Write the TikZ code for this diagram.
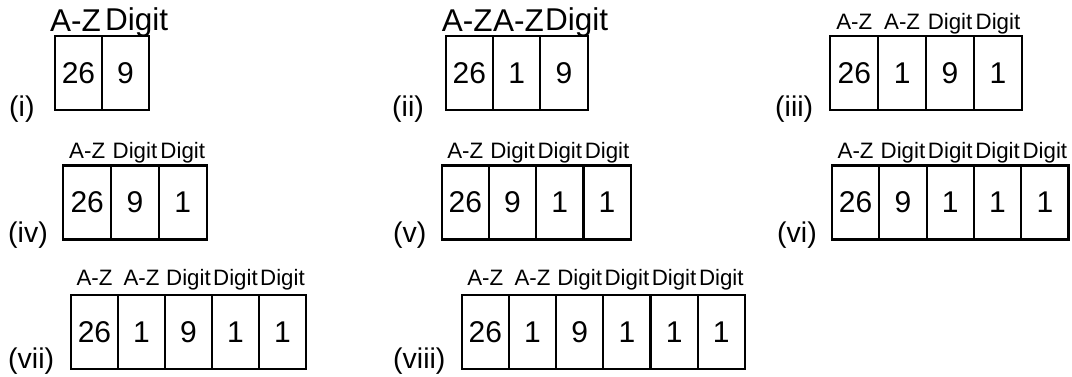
\documentclass[tikz,border=0pt]{standalone}
\usepackage{fontspec}
\setmainfont{Liberation Sans}
\newcommand\nfnt{\fontsize{30}{30}\selectfont}
\newcommand\lblbig{\fontsize{31.5}{31.5}\selectfont}
\newcommand\lblsmall{\fontsize{22.3}{22.3}\selectfont}
\newcommand\rfnt{\fontsize{28.5}{28.5}\selectfont}
\begin{document}
\begin{tikzpicture}[x=1pt,y=-1pt,
  cell/.style={draw, line width=2.2pt, minimum height=74pt, inner sep=0pt, outer sep=0pt, font=\nfnt, anchor=north west},
  biglab/.style={font=\lblbig, anchor=base west, inner sep=0pt},
  lab/.style={font=\lblsmall, anchor=base, inner sep=0pt},
  roman/.style={font=\rfnt, anchor=base west, inner sep=0pt}]
\useasboundingbox (0,0) rectangle (1072,377);

% (i)
\foreach \v [count=\i] in {26,9}
  \node[cell, minimum width=47pt] (ia\i) at (55+47*\i-47,36) {\v};
\node[biglab] (ial1) at (50,32) {A-Z};
\node[biglab] (ial2) at (105,31) {Digit};
\node[roman] (ir) at (9,117) {(i)};

% (ii)
\foreach \v [count=\i] in {26,1,9}
  \node[cell, minimum width=47.33pt] (iia\i) at (445.7+47.33*\i-47.33,36) {\v};
\node[biglab] (iial1) at (441.7,32) {A-Z};
\node[biglab] (iial2) at (493,32) {A-Z};
\node[biglab] (iial3) at (545,31) {Digit};
\node[roman] (iir) at (392,117) {(ii)};

% (iii)
\foreach \v/\l [count=\i] in {26/A-Z,1/A-Z,9/Digit,1/Digit}{
  \node[cell, minimum width=47.9pt] (iiia\i) at (830.3+47.9*\i-47.9,36) {\v};
  \node[lab] (iiial\i) at (iiia\i.north |- 0,29.3) {\l};
}
\node[roman] (iiir) at (775,117) {(iii)};

% (iv)
\foreach \v/\l [count=\i] in {26/A-Z,9/Digit,1/Digit}{
  \node[cell, minimum width=47.8pt] (iva\i) at (63.3+47.8*\i-47.8,165.5) {\v};
  \node[lab] (ival\i) at (iva\i.north |- 0,158.3) {\l};
}
\node[roman] (ivr) at (8,243) {(iv)};

% (v)
\foreach \v/\l [count=\i] in {26/A-Z,9/Digit,1/Digit,1/Digit}{
  \node[cell, minimum width=47.25pt] (va\i) at (441.7+47.25*\i-47.25,165.5) {\v};
  \node[lab] (val\i) at (va\i.north |- 0,158.3) {\l};
}
\node[roman] (vr) at (393,243) {(v)};

% (vi)
\foreach \v/\l [count=\i] in {26/A-Z,9/Digit,1/Digit,1/Digit,1/Digit}{
  \node[cell, minimum width=47.3pt] (via\i) at (832+47.3*\i-47.3,165.5) {\v};
  \node[lab] (vial\i) at (via\i.north |- 0,158.3) {\l};
}
\node[roman] (vir) at (777,243) {(vi)};

% (vii)
\foreach \v/\l [count=\i] in {26/A-Z,1/A-Z,9/Digit,1/Digit,1/Digit}{
  \node[cell, minimum width=47pt] (viia\i) at (71+47*\i-47,295) {\v};
  \node[lab] (viial\i) at (viia\i.north |- 0,285) {\l};
}
\node[roman] (viir) at (8,368) {(vii)};

% (viii)
\foreach \v/\l [count=\i] in {26/A-Z,1/A-Z,9/Digit,1/Digit,1/Digit,1/Digit}{
  \node[cell, minimum width=47.2pt] (viiia\i) at (461.7+47.2*\i-47.2,295) {\v};
  \node[lab] (viiial\i) at (viiia\i.north |- 0,285) {\l};
}
\node[roman] (viiir) at (393,368) {(viii)};
\end{tikzpicture}
\end{document}
